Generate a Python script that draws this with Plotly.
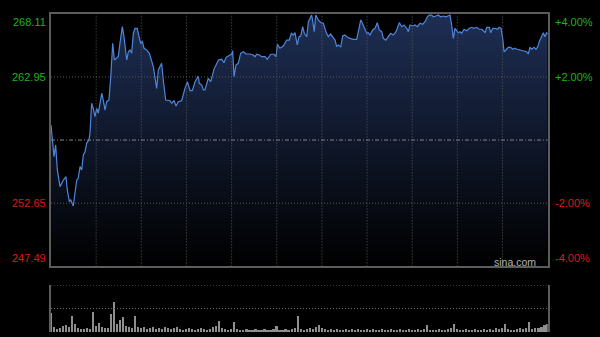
import plotly.graph_objects as go

# ---- data (minutes since open, HK session with lunch break collapsed: 0..330) ----
prev_close = 257.80
y_ticks_left = ["268.11", "262.95", "252.65", "247.49"]
y_tick_vals = [268.11, 262.95, 252.65, 247.49]
y_ticks_right = ["+4.00%", "+2.00%", "-2.00%", "-4.00%"]
grid_prices = [262.95, 252.65]
grid_minutes = [30, 60, 90, 120, 150, 180, 210, 240, 270, 300]

minutes = [
    0, 2.0, 3.1, 4.2, 6.0, 8.2, 10.0, 10.8, 12.2, 13.1, 14.8, 15.9, 17.1, 18.1, 19.3, 20.4,
    21.5, 22.6, 23.7, 25.2, 25.9, 27.0, 28.1, 29.2, 30.4, 31.4, 32.6, 33.7, 34.7, 35.9,
    37.0, 38.5, 39.7, 41.0, 42.1, 43.7, 44.7, 45.8, 47.4, 48.5, 49.6, 50.3, 51.4, 52.5,
    53.6, 54.7, 55.8, 57.3, 58.5, 59.6, 60.7, 61.8, 63.6, 65.3, 68.0, 70.2, 71.3, 73.5,
    74.6, 76.2, 79.1, 80.2, 81.7, 83.1, 84.6, 86.8, 89.0, 90.6, 92.4, 93.9, 95.7, 96.8,
    97.9, 98.5, 100.1, 101.2, 102.3, 104.5, 106.1, 108.3, 111.2, 113.4, 114.9, 116.3,
    118.5, 120.1, 120.7, 121.6, 122.9, 124.4, 126.0, 127.8, 129.6, 132.2, 134.4, 135.5,
    136.7, 138.4, 140.0, 142.2, 143.7, 146.0, 148.2, 149.5, 150.4, 152.1, 154.3, 156.6,
    158.3, 159.7, 161.0, 162.1, 163.6, 164.8, 165.9, 167.2, 168.3, 169.9, 171.0, 172.1,
    173.2, 174.3, 174.9, 175.9, 177.6, 179.4, 180.9, 182.7, 184.2, 185.8, 187.6, 188.7,
    189.8, 190.9, 192.5, 193.8, 195.3, 196.9, 198.7, 200.9, 203.1, 204.2, 205.8, 207.1,
    208.6, 209.8, 210.8, 211.9, 213.7, 215.3, 216.8, 218.1, 219.7, 220.8, 222.4, 224.1,
    225.7, 227.4, 229.2, 231.4, 233.0, 234.5, 236.3, 237.4, 238.5, 240.3, 241.8, 243.4,
    245.2, 247.0, 248.5, 250.0, 251.3, 252.9, 254.0, 255.8, 257.3, 258.9, 260.6, 262.4,
    264.0, 265.1, 266.2, 267.3, 268.4, 269.5, 270.6, 271.7, 272.9, 274.4, 276.2, 277.9,
    279.5, 281.0, 282.8, 284.6, 286.2, 287.2, 288.4, 289.5, 291.2, 292.1, 293.5, 295.0,
    296.5, 297.9, 299.0, 300.1, 301.0, 302.3, 303.8, 305.4, 306.8, 308.3, 309.4, 311.6,
    313.4, 314.9, 316.0, 317.1, 318.2, 319.4, 320.9, 322.2, 323.4, 324.4, 326.0, 327.1,
    328.2, 329.3, 330.0,
]

prices = [
    259.03, 256.45, 257.40, 255.36, 254.00, 254.54, 254.81, 253.73, 252.77, 252.91, 252.42,
    253.59, 254.54, 254.68, 255.63, 255.36, 256.58, 256.85, 257.54, 257.81, 258.35, 260.80,
    260.39, 259.71, 260.39, 259.99, 261.07, 261.62, 261.07, 260.25, 260.93, 261.07, 262.97,
    265.70, 264.33, 264.47, 264.60, 265.70, 267.05, 266.23, 265.15, 264.33, 265.01, 265.15,
    264.88, 266.51, 266.92, 266.92, 266.23, 265.70, 265.83, 265.29, 265.15, 264.88, 263.79,
    262.02, 263.52, 264.06, 262.70, 261.07, 261.01, 260.80, 261.01, 260.58, 260.93, 261.01,
    262.02, 262.56, 261.83, 261.83, 262.56, 262.84, 263.03, 262.43, 262.29, 261.89, 261.89,
    262.84, 262.56, 263.57, 264.33, 264.39, 264.11, 264.55, 264.74, 264.82, 265.09, 262.97,
    263.92, 264.06, 264.88, 265.01, 264.82, 264.82, 264.74, 264.60, 264.80, 264.74, 264.60,
    264.60, 264.39, 264.80, 264.80, 264.60, 265.61, 265.29, 265.47, 265.96, 265.96, 266.51,
    266.37, 266.56, 265.56, 266.23, 266.29, 267.05, 266.51, 266.23, 267.46, 267.73, 268.00,
    267.19, 266.64, 268.00, 267.60, 267.38, 267.33, 266.64, 266.23, 266.45, 266.18, 265.96,
    265.42, 265.56, 265.42, 266.29, 266.37, 266.18, 266.10, 266.02, 266.02, 266.78, 267.60,
    267.27, 266.92, 266.51, 266.56, 266.37, 266.78, 266.92, 267.38, 266.78, 266.64, 266.10,
    265.96, 266.23, 266.51, 266.37, 266.64, 267.38, 267.05, 267.19, 266.92, 266.64, 267.19,
    267.11, 267.19, 267.05, 267.33, 267.25, 267.46, 267.86, 268.00, 268.00, 267.86, 267.92,
    268.00, 267.86, 267.92, 267.86, 267.92, 268.00, 267.19, 266.10, 266.92, 266.78, 266.56,
    266.64, 266.51, 266.84, 266.72, 266.92, 267.00, 266.92, 267.00, 266.84, 266.84, 266.72,
    266.56, 267.00, 267.00, 266.56, 266.92, 266.92, 266.84, 267.00, 266.92, 266.10, 265.01,
    265.15, 265.37, 265.37, 265.21, 265.29, 265.21, 265.15, 265.09, 265.01, 265.01, 264.82,
    265.37, 265.21, 265.37, 265.21, 265.42, 265.83, 266.23, 266.56, 266.23, 266.56, 266.45,
]

vol_minutes = list(range(0, 331, 2))
volumes = [
    19, 5, 3, 4, 6, 7, 5, 16, 8, 4, 3, 3, 4, 3, 20, 6, 9, 5, 4, 4,
    18, 30, 8, 12, 15, 6, 5, 4, 16, 5, 4, 5, 3, 4, 5, 3, 4, 3, 5, 4,
    3, 4, 5, 3, 2, 3, 4, 3, 2, 3, 4, 3, 2, 3, 5, 6, 11, 4, 3, 2,
    3, 10, 3, 2, 2, 3, 2, 2, 3, 2, 2, 3, 2, 2, 3, 6, 2, 2, 3, 2,
    3, 4, 16, 3, 2, 3, 4, 3, 5, 7, 4, 3, 2, 3, 2, 3, 2, 2, 3, 2,
    3, 2, 3, 2, 2, 3, 2, 3, 2, 2, 3, 2, 2, 3, 2, 2, 3, 2, 2, 3,
    2, 2, 3, 2, 3, 7, 2, 2, 2, 3, 2, 2, 3, 4, 8, 3, 2, 2, 3, 2,
    2, 3, 2, 2, 3, 2, 3, 2, 4, 3, 4, 8, 3, 2, 2, 3, 4, 3, 4, 10,
    3, 4, 4, 5, 7, 8,
]
vol_max = 47

Y_MIN, Y_MAX = 247.49, 268.11
GREEN = "#1db31d"
RED = "#dd1a1a"
GRID = "#5a5a5a"
BORDER = "#5c5c5c"
FONT = "Liberation Sans, Arial, sans-serif"
DOT = "1px,2px"

fig = go.Figure()

fig.add_trace(go.Scatter(
    x=minutes, y=prices, mode="lines",
    line=dict(color="#4f86dc", width=1.2),
    fill="tozeroy",
    fillgradient=dict(
        type="vertical",
        colorscale=[[0, "rgba(0,0,0,1)"], [1, "rgba(30,46,84,1)"]],
        start=Y_MIN, stop=Y_MAX,
    ),
    xaxis="x", yaxis="y", hoverinfo="skip", showlegend=False,
))

fig.add_trace(go.Bar(
    x=vol_minutes, y=volumes, width=1.1,
    marker=dict(color="#8e8e8e", line=dict(width=0)),
    xaxis="x2", yaxis="y2", hoverinfo="skip", showlegend=False,
))

XD = [51 / 600, 547.7 / 600]
fig.update_layout(
    width=600, height=337,
    margin=dict(l=0, r=0, t=0, b=0),
    paper_bgcolor="#000000", plot_bgcolor="#000000",
    font=dict(family=FONT, size=11),
    bargap=0,
    xaxis=dict(
        domain=XD, range=[0, 330], showgrid=False,
        showticklabels=False, zeroline=False, ticks="",
        showline=True, mirror=True, linecolor=BORDER, linewidth=1.5,
    ),
    yaxis=dict(
        domain=[1 - 266.4 / 337, 1 - 13.7 / 337], range=[Y_MIN, Y_MAX],
        showgrid=False, showticklabels=False, zeroline=False, ticks="",
        showline=True, mirror=True, linecolor=BORDER, linewidth=1.5,
    ),
    xaxis2=dict(
        domain=XD, range=[0, 330], showgrid=False, showticklabels=False,
        zeroline=False, showline=False, anchor="y2", ticks="",
    ),
    yaxis2=dict(
        domain=[1 - 332 / 337, 1 - 285 / 337], range=[0, vol_max],
        showgrid=False, showticklabels=False, zeroline=False, ticks="",
        showline=True, mirror=True, linecolor=BORDER, linewidth=1.5, anchor="x2",
    ),
)

# grid lines drawn above the area fill
for m in grid_minutes:
    fig.add_shape(type="line", xref="x", yref="y domain", x0=m, x1=m, y0=0, y1=1,
                  layer="above", line=dict(color=GRID, width=1, dash=DOT))
for p in grid_prices:
    fig.add_shape(type="line", xref="x domain", yref="y", x0=0, x1=1, y0=p, y1=p,
                  layer="above", line=dict(color=GRID, width=1, dash=DOT))
fig.add_shape(type="line", xref="x domain", yref="y", x0=0, x1=1,
              y0=prev_close, y1=prev_close, layer="above",
              line=dict(color="#858585", width=1, dash="4px,2px,1px,2px"))
for v in (vol_max, vol_max / 2):
    fig.add_shape(type="line", xref="x2 domain", yref="y2", x0=0, x1=1,
                  y0=v, y1=v, line=dict(color="#707070", width=1, dash=DOT))

anchors = ["top", "middle", "middle", "bottom"]
for val, lt, rt, anc in zip(y_tick_vals, y_ticks_left, y_ticks_right, anchors):
    col = GREEN if val > prev_close else RED
    fig.add_annotation(x=48 / 600, xref="paper", y=val, yref="y", text=lt,
                       xanchor="right", yanchor=anc, showarrow=False,
                       font=dict(color=col, size=11, family=FONT))
    fig.add_annotation(x=553 / 600, xref="paper", y=val, yref="y", text=rt,
                       xanchor="left", yanchor=anc, showarrow=False,
                       font=dict(color=col, size=11, family=FONT))

fig.add_annotation(x=538 / 600, xref="paper", y=1 - 262 / 337, yref="paper",
                   text="sina.com", xanchor="right", yanchor="middle",
                   showarrow=False, font=dict(color="#b4b4b4", size=10.5, family=FONT))

fig.write_html("out.html", config={"displayModeBar": False})
